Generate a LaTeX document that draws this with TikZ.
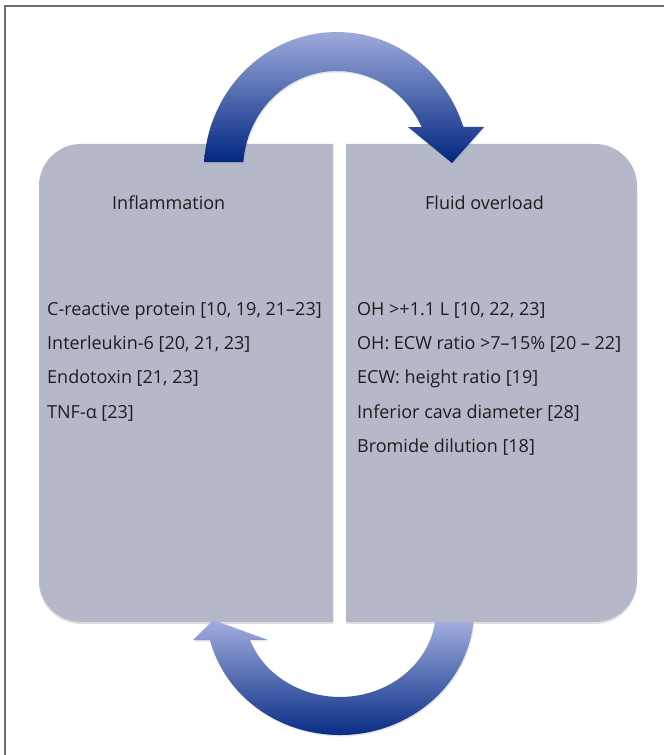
\documentclass[tikz,border=0pt]{standalone}
\usepackage{fontspec}
\setmainfont{Open Sans}
\usetikzlibrary{shadows}

\definecolor{panelgray}{RGB}{181,184,201}
\definecolor{arrowlight}{RGB}{162,174,222}
\definecolor{arrowdark}{RGB}{0,38,128}
\definecolor{textdark}{RGB}{30,30,30}
\definecolor{framegray}{RGB}{110,110,110}

\begin{document}
\begin{tikzpicture}[x=1pt, y=1pt,
    panel/.style={fill=panelgray, drop shadow={opacity=0.25, shadow xshift=0pt, shadow yshift=-2pt}},
    cyclearrow/.style={top color=arrowlight, bottom color=arrowdark, drop shadow={opacity=0.2, shadow xshift=1pt, shadow yshift=-1.5pt}},
    label/.style={anchor=base west, inner sep=0pt, text=textdark, font=\fontsize{18}{20}\selectfont}]
    \useasboundingbox (0,0) rectangle (664,755);
    \draw[framegray, line width=1.6pt] (664,749) -- (5,749) -- (5,0); % frame

    % the two panels
    \path[panel] (333,611) -- (81,611) arc[start angle=90, end angle=180, radius=42]
        -- (39,175) arc[start angle=180, end angle=270, radius=42] -- (333,133) -- cycle;
    \path[panel] (346,611) -- (595,611) arc[start angle=90, end angle=0, radius=42]
        -- (637,175) arc[start angle=0, end angle=-90, radius=42] -- (346,133) -- cycle;

    % upper arrow, left to right
    \path[cyclearrow] (204.2,592.9) arc[start angle=176.7, end angle=18.2, x radius=133, y radius=138]
        -- (484,628) -- (452,592) -- (408,628) -- (421.7,627.9)
        arc[start angle=25.7, end angle=175.4, x radius=94, y radius=99] -- cycle;

    % lower arrow, right to left
    \path[cyclearrow] (473.4,133) arc[start angle=-5.5, end angle=-166.1, x radius=134, y radius=125]
        -- (193,115) -- (213,135) -- (268,115) -- (249.9,115)
        arc[start angle=-159.8, end angle=-7.9, x radius=96, y radius=87] -- cycle;

    \node[label] (infl) at (112,545) {Inflammation};
    \node[label] (fluid) at (425,545) {Fluid overload};

    \node[label] (crp) at (47,439.5) {C-reactive protein [10, 19, 21--23]};
    \node[label] (il6) at (47,405.3) {Interleukin-6 [20, 21, 23]};
    \node[label] (endo) at (47,371.1) {Endotoxin [21, 23]};
    \node[label] (tnf) at (47,336.9) {TNF-α [23]};

    \node[label] (oh) at (357,439.5) {OH >+1.1 L [10, 22, 23]};
    \node[label] (ohecw) at (357,405.3) {OH: ECW ratio >7--15\% [20 -- 22]};
    \node[label] (ecwh) at (357,371.1) {ECW: height ratio [19]};
    \node[label] (cava) at (357,336.9) {Inferior cava diameter [28]};
    \node[label] (brom) at (357,302.7) {Bromide dilution [18]};
\end{tikzpicture}
\end{document}
